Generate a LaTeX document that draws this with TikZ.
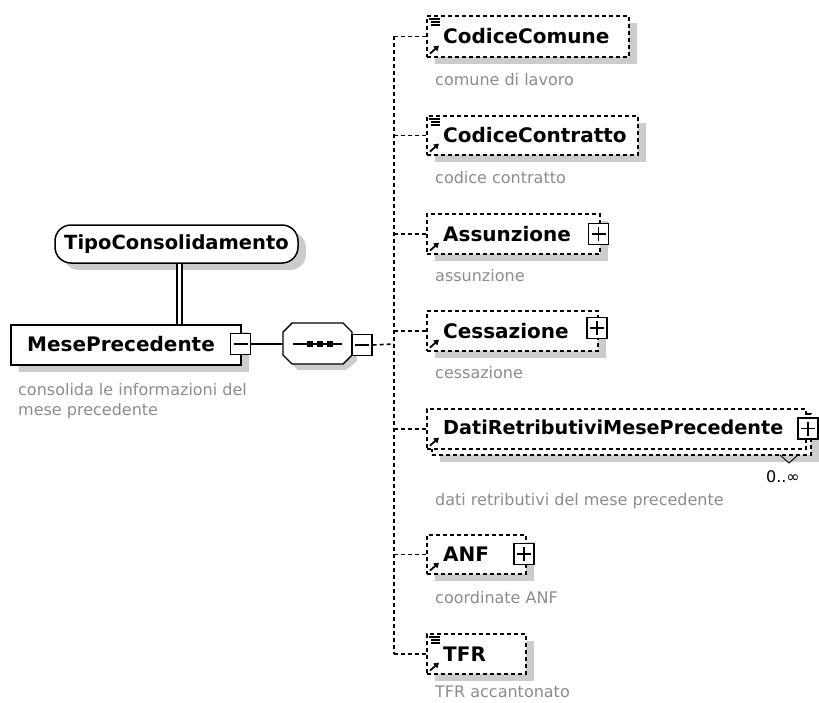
\documentclass[tikz,border=0pt]{standalone}
\usepackage{fontspec}
\setmainfont{DejaVu Sans}
\usetikzlibrary{shadows,arrows.meta}
\definecolor{descc}{RGB}{140,140,140}
\definecolor{shadc}{RGB}{204,204,204}
\newcommand\DocIcon[1]{\draw[icn] ([shift={(3,4)}]#1.north west) -- ++(11,0) ([shift={(5,7)}]#1.north west) -- ++(9,0) ([shift={(5,10)}]#1.north west) -- ++(9,0);}
\newcommand\RefArrow[1]{\draw[arr] ([shift={(4,-4)}]#1.south west) -- ++(9,-8);}
\begin{document}
\begin{tikzpicture}[x=1pt,y=-1pt,
  nm/.style={font=\bfseries\fontsize{20}{24}\selectfont, anchor=base west, inner sep=0pt},
  ds/.style={font=\fontsize{16}{19}\selectfont, text=descc, anchor=base west, inner sep=0pt},
  shd/.style={drop shadow={shadow xshift=8pt, shadow yshift=-7pt, fill=shadc, opacity=1}},
  dbox/.style={draw, fill=white, line width=1.6pt, dash pattern=on 4pt off 3pt, inner sep=0pt, anchor=north west},
  sbox/.style={draw, fill=white, line width=1.5pt, inner sep=0pt},
  con/.style={line width=1.6pt, dash pattern=on 4pt off 3pt},
  icn/.style={line width=1.1pt},
  arr/.style={line width=1.8pt, -{Triangle[length=5pt,width=6pt]}},
  pm/.style={draw, fill=white, line width=1.3pt, minimum width=20pt, minimum height=21pt, inner sep=0pt},
  minus/.style={pm, path picture={\draw[line width=1.3pt] ([xshift=-7pt]path picture bounding box.center) -- ([xshift=7pt]path picture bounding box.center);}},
  plus/.style={pm, path picture={\draw[line width=1.3pt] ([xshift=-7pt]path picture bounding box.center) -- ([xshift=7pt]path picture bounding box.center) ([yshift=-7pt]path picture bounding box.center) -- ([yshift=7pt]path picture bounding box.center);}},
]
\useasboundingbox (0,0) rectangle (819,702);
\coordinate (bus) at (394,344);

% ---------- TipoConsolidamento ----------
\node[sbox, shd, rounded corners=16pt, minimum width=243pt, minimum height=38pt,
      font=\bfseries\fontsize{19.5}{23}\selectfont] (tc) at (176.5,244) {TipoConsolidamento};

% ---------- MesePrecedente ----------
\node[sbox, shd, minimum width=230pt, minimum height=40pt, anchor=north west] (mp) at (10,324) {};
\node[nm] (mpt) at (27,351) {MesePrecedente};
\node[minus] (mpm) at (240.5,344) {};
\node[ds] (mpd1) at (18,395) {consolida le informazioni del};
\node[ds] (mpd2) at (18,415) {mese precedente};
\draw[double, double distance=3.5pt, line width=1.4pt] ([xshift=3pt]tc.south) -- ([xshift=3pt]tc.south |- mp.north);

% ---------- sequence ----------
\coordinate (sqw) at (283,344);
\coordinate (sqe) at (352,344);
\fill[shadc] (289,339) -- (298,330) -- (346,330) -- (357,339) -- (357,361) -- (346,370) -- (298,370) -- (289,361) -- cycle;
\filldraw[fill=white, line width=1.4pt] (283,332) -- (292,323) -- (343,323) -- (352,332) -- (352,355) -- (343,364) -- (292,364) -- (283,355) -- cycle;
\draw[line width=1.4pt] (293,344) -- (342,344);
\foreach \xx in {309.5,319.5,329.5} \fill (\xx-3,341) rectangle (\xx+3,347);
\node[minus] (sqm) at (362,345) {};
\draw[line width=1.4pt] (mpm.east) -- (sqw);

% ---------- children ----------
\node[dbox, shd, minimum width=202pt, minimum height=41pt] (cc) at (426,15) {};
\node[nm] (cct) at (443,43) {CodiceComune};
\node[ds] (ccd) at (435,85) {comune di lavoro};
\DocIcon{cc}\RefArrow{cc}

\node[dbox, shd, minimum width=211pt, minimum height=39pt] (ct) at (426,115) {};
\node[nm] (ctt) at (443,142) {CodiceContratto};
\node[ds] (ctd) at (435,183) {codice contratto};
\DocIcon{ct}\RefArrow{ct}

\node[dbox, shd, minimum width=173pt, minimum height=40pt] (as) at (426,213) {};
\node[nm] (ast) at (443,241) {Assunzione};
\node[plus] (asp) at (598.5,234) {};
\node[ds] (asd) at (435,281) {assunzione};
\RefArrow{as}

\node[dbox, shd, minimum width=171pt, minimum height=40pt] (ce) at (426,310) {};
\node[nm] (cet) at (443,338) {Cessazione};
\node[plus] (cep) at (597,328) {};
\node[ds] (ced) at (435,378) {cessazione};
\RefArrow{ce}

\node[dbox, shd, minimum width=379pt, minimum height=41pt] (drb) at (431,413) {};
\node[dbox, minimum width=379pt, minimum height=40pt] (dr) at (426,408) {};
\node[nm, font=\bfseries\fontsize{19.2}{23}\selectfont] (drt) at (443,434) {DatiRetributiviMesePrecedente};
\node[plus] (drp) at (808,428.5) {};
\draw[line width=0.9pt] (780,455) -- (789,463) -- (798,455);
\node[font=\fontsize{16}{19}\selectfont, anchor=base east, inner sep=0pt] (drm) at (800,482) {0..∞};
\node[ds] (drd) at (435,505) {dati retributivi del mese precedente};
\RefArrow{dr}

\node[dbox, shd, minimum width=99pt, minimum height=39pt] (an) at (426,534) {};
\node[nm] (ant) at (443,561) {ANF};
\node[plus] (anp) at (524,554) {};
\node[ds] (and) at (435,603) {coordinate ANF};
\RefArrow{an}

\node[dbox, shd, minimum width=99pt, minimum height=40pt] (tf) at (426,633) {};
\node[nm] (tft) at (443,661) {TFR};
\node[ds] (tfd) at (435,697) {TFR accantonato};
\DocIcon{tf}\RefArrow{tf}

% ---------- connectors ----------
\draw[con] (cc.west -| bus) -- (tf.west -| bus);
\foreach \n in {cc,ct,as,ce,dr,an,tf} \draw[con] (\n.west) -- (\n.west -| bus);
\draw[con] (sqm.east) -- (bus);
\end{tikzpicture}
\end{document}
